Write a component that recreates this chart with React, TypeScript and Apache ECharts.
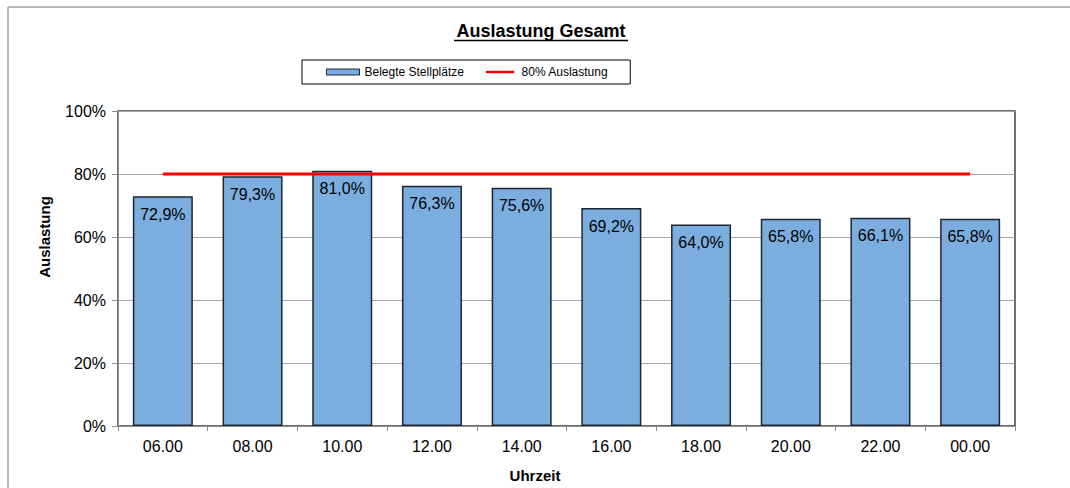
import React, { useEffect, useRef } from "react";
import * as echarts from "echarts";

const categories = ["06.00", "08.00", "10.00", "12.00", "14.00", "16.00", "18.00", "20.00", "22.00", "00.00"];
const occupancy = [72.9, 79.3, 81.0, 76.3, 75.6, 69.2, 64.0, 65.8, 66.1, 65.8];
const threshold = [80, 80, 80, 80, 80, 80, 80, 80, 80, 80];
const yTicks = [0, 20, 40, 60, 80, 100];

const FONT = "Liberation Sans, Arial, sans-serif";

export default function App() {
  const ref = useRef<HTMLDivElement>(null);
  useEffect(() => {
    if (!ref.current) return;
    const chart = echarts.init(ref.current, undefined, { renderer: "svg" });
    chart.setOption({
      animation: false,
      backgroundColor: "#ffffff",
      textStyle: { fontFamily: FONT },
      grid: {
        left: 118,
        right: 55,
        top: 111,
        bottom: 62,
        show: true,
        borderColor: "#404040",
        borderWidth: 1.5,
        backgroundColor: "transparent",
      },
      legend: {
        left: 302,
        top: 60,
        padding: [6, 22, 6, 24],
        borderColor: "#000000",
        borderWidth: 1,
        borderRadius: 0,
        itemGap: 22,
        itemWidth: 33,
        itemHeight: 6,
        textStyle: { fontFamily: FONT, fontSize: 12, color: "#000" },
        data: [
          { name: "Belegte Stellplätze", icon: "rect", itemStyle: { color: "#7BAEDF", borderColor: "#1c2533", borderWidth: 1 } },
          {
            name: "80% Auslastung",
            icon: "path://M0,0 L0.01,0 L0.01,0.01 L0,0.01 Z M0,2 L33,2 L33,5 L0,5 Z M32.99,6.99 L33,6.99 L33,7 L32.99,7 Z",
            itemStyle: { color: "#ff0000", borderWidth: 0 },
          },
        ],
      },
      xAxis: {
        type: "category",
        data: categories,
        axisLine: { lineStyle: { color: "#8c8c8c", width: 1 } },
        axisTick: { show: true, alignWithLabel: false, length: 5, lineStyle: { color: "#8c8c8c" } },
        axisLabel: { fontFamily: FONT, fontSize: 16, color: "#000", margin: 12 },
        splitLine: { show: false },
      },
      yAxis: {
        type: "value",
        min: 0,
        max: 100,
        interval: 20,
        axisLine: { show: true, lineStyle: { color: "#8c8c8c", width: 1 } },
        axisTick: { show: true, length: 6, inside: false, lineStyle: { color: "#8c8c8c" } },
        axisLabel: {
          fontFamily: FONT,
          fontSize: 16,
          color: "#000",
          margin: 12,
          formatter: (v: number) => (yTicks.includes(v) ? `${v}%` : ""),
        },
        splitLine: { show: true, lineStyle: { color: "#a6a6a6", width: 1 } },
      },
      series: [
        {
          name: "Belegte Stellplätze",
          type: "bar",
          data: occupancy,
          barWidth: 60,
          itemStyle: { color: "#7BAEDF", borderColor: "#1c2533", borderWidth: 1.5 },
          label: {
            show: true,
            position: "insideTop",
            distance: 10,
            fontFamily: FONT,
            fontSize: 16,
            color: "#000",
            formatter: (p: any) => `${Number(p.value).toFixed(1).replace(".", ",")}%`,
          },
          z: 2,
        },
        {
          name: "80% Auslastung",
          type: "line",
          data: threshold,
          symbol: "none",
          showSymbol: false,
          lineStyle: { color: "#ff0000", width: 3 },
          itemStyle: { color: "#ff0000" },
          z: 3,
        },
      ],
      graphic: [
        { type: "line", shape: { x1: 8, y1: 7, x2: 1070, y2: 7 }, style: { stroke: "#a0a0a0", lineWidth: 1.5 } },
        { type: "line", shape: { x1: 8, y1: 7, x2: 8, y2: 488 }, style: { stroke: "#a0a0a0", lineWidth: 1.5 } },
        {
          type: "text",
          x: 541,
          y: 31,
          style: {
            text: "Auslastung Gesamt",
            fontFamily: FONT,
            fontSize: 18,
            fontWeight: "bold",
            fill: "#000",
            align: "center",
            verticalAlign: "middle",
          },
        },
        { type: "line", shape: { x1: 454, y1: 40.5, x2: 628, y2: 40.5 }, style: { stroke: "#000", lineWidth: 1.5 } },
        {
          type: "text",
          x: 44,
          y: 237,
          rotation: Math.PI / 2,
          style: {
            text: "Auslastung",
            fontFamily: FONT,
            fontSize: 15,
            fontWeight: "bold",
            fill: "#000",
            align: "center",
            verticalAlign: "middle",
          },
        },
        {
          type: "text",
          x: 535,
          y: 475,
          style: {
            text: "Uhrzeit",
            fontFamily: FONT,
            fontSize: 15,
            fontWeight: "bold",
            fill: "#000",
            align: "center",
            verticalAlign: "middle",
          },
        },
      ],
    });
    return () => chart.dispose();
  }, []);
  return (
    <div
      ref={ref}
      style={{ position: "absolute", left: 0, top: 0, width: 1070, height: 488 }}
    />
  );
}
